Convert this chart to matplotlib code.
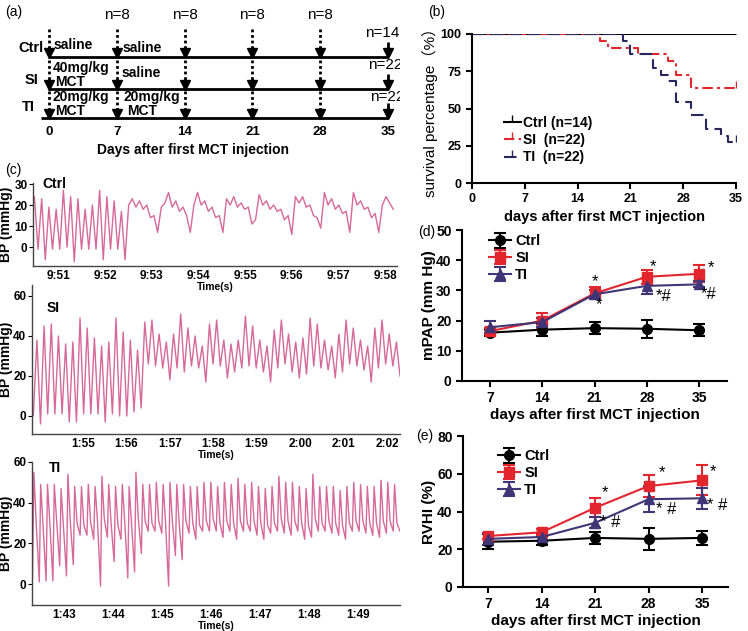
import numpy as np
import matplotlib
matplotlib.use("Agg")
import matplotlib.pyplot as plt
from matplotlib.ticker import FuncFormatter

plt.rcParams['font.family'] = ['Liberation Sans', 'Noto Sans CJK SC', 'DejaVu Sans']

# ---------------- data ----------------
# (a) study design
schedule_days = [0, 7, 14, 21, 28, 35]
sample_n = ['', 'n=8', 'n=8', 'n=8', 'n=8', '']
groups = ['Ctrl', 'SI', 'TI']
group_n = ['n=14', 'n=22', 'n=22']

# (b) survival (Kaplan-Meier steps)
ctrl_surv_days = [0, 35]
ctrl_surv = [100, 100]
si_surv_days = [0, 17, 18, 22, 26, 27, 29, 35]
si_surv = [100, 95.5, 90.9, 86.4, 81.8, 72.7, 63.6, 63.6]
ti_surv_days = [0, 20, 21, 24, 25, 26, 27, 29, 31, 33, 34, 35]
ti_surv = [100, 95.5, 86.4, 77.3, 72.7, 68.2, 54.5, 45.5, 36.4, 31.8, 27.3, 27.3]

# (c) pressure traces
ctrl_bp = [24, -1, 23, -6, 19, -1, 18, -1, 27, 0, 24, -7, 23, -1, 18, -1, 20, -1,
           27, -6, 24, -1, 22, -1, 17, -6,
           20, 23, 19, 22, 18, 20, 14, 15, 7, 19, 21, 26, 19, 22, 17, 19, 15, 7,
           20, 26, 20, 22, 17, 19, 14, 15, 7, 23, 20, 24, 19, 21, 18, 19, 11, 13,
           25, 20, 22, 18, 20, 17, 18, 13, 15, 6, 24, 21, 24, 19, 20, 15, 14, 9,
           26, 20, 23, 18, 20, 16, 17, 7, 26, 20, 22, 18, 19, 14, 16, 7, 20, 24, 21, 18]
ctrl_time = (590.49, 598.17)

si_start = 0
si_peaks = [38, 45, 46, 40, 36, 37, 49, 44, 39, 35, 37, 49, 42, 38, 33,
            47, 48, 41, 37, 41, 51, 44, 40, 35, 46, 48, 38, 36, 38, 50, 45, 38, 35,
            43, 48, 41, 37, 39, 49, 46, 38, 35, 41, 48, 44, 38, 35, 44, 48, 41, 37]
si_troughs = [-4, 1, 1, 1, -3, -3, 1, 1, 1, -3, 1, 0, 0, 2, 4,
              26, 25, 24, 18, 24, 22, 25, 24, 17, 26, 25, 19, 22, 24, 25, 24, 22, 17,
              24, 26, 22, 19, 21, 25, 24, 23, 19, 22, 26, 25, 23, 17, 24, 26, 25, 20]
si_time = (113.86, 122.3)

ti_start = 3
ti_peaks = [55, 49, 49, 49, 47, 54, 48, 48, 49, 48,
            53, 49, 48, 49, 48, 55, 49, 49, 50, 49,
            50, 49, 49, 48, 48, 50, 50, 48, 50, 49,
            52, 49, 50, 48, 47, 48, 53, 50, 50, 48,
            47, 54, 48, 48, 48, 46, 48, 50, 49, 48,
            48, 51, 50, 49]
ti_notches = [30, 29, 30, 31, 28, 31, 30, 29, 30, 31,
              32, 30, 29, 31, 30, 32, 31, 30, 31, 30,
              31, 30, 31, 30, 29, 31, 32, 30, 31, 30,
              31, 30, 31, 30, 29, 30, 32, 31, 31, 30,
              29, 32, 30, 31, 30, 29, 30, 31, 31, 30,
              30, 31, 31, 30]
ti_troughs = [1, 1.5, 1.5, 9, 4, 9.5, 24, 24, 22, -1,
              23, 11, 22, 3, 6, 15, 26, 26, 25, -1,
              14, 12, 25, 22, 26, 26, 26, 23, 26, 22,
              26, 26, 24, 22, 25, 26, 25, 24, 26, 22,
              23, 26, 26, 25, 24, 22, 26, 26, 25, 24,
              23, 25, 26, 26]
ti_time = (102.36, 109.86)

# (d) mPAP and (e) RVHI
days = [7, 14, 21, 28, 35]
mpap_ctrl = [16, 17, 17.5, 17.3, 16.8]
mpap_ctrl_err = [1, 2, 2, 3, 2]
mpap_si = [16.5, 20, 29, 34.5, 35.5]
mpap_si_err = [1, 2.5, 2, 2.3, 2.8]
mpap_ti = [17.8, 19.5, 28.7, 31.5, 32]
mpap_ti_err = [2, 1.5, 1.5, 2.7, 1]
mpap_marks = [('*', 21, 32.8), ('*', 21.6, 25.3), ('*', 28.9, 38),
              ('*#', 30.2, 28), ('*', 36.6, 37.7), ('*#', 36.3, 28.5)]

rvhi_ctrl = [24, 24.5, 26, 25.5, 26]
rvhi_ctrl_err = [4, 2, 3, 6, 3.5]
rvhi_si = [27, 29, 42, 53.5, 56.5]
rvhi_si_err = [1.5, 1.5, 5, 6, 8]
rvhi_ti = [25.5, 26.5, 34, 46.5, 47]
rvhi_ti_err = [3, 2, 3, 7, 5.5]
rvhi_marks = [('*', 22.3, 50), ('* #', 23.0, 34), ('*', 29.8, 60.5),
              ('* #', 30.3, 41), ('*', 36.4, 61), ('* #', 37.0, 43)]

RED = '#e3262d'
PURPLE = '#3f3577'
NAVY = '#26275e'
PINK = '#d6689a'

W, H = 748, 631
fig = plt.figure(figsize=(W / 100, H / 100), dpi=100)


def px_axes(l, t, r, b):
    a = fig.add_axes([l / W, 1 - b / H, (r - l) / W, (b - t) / H])
    a.patch.set_visible(False)
    return a


def style_axes(ax, fs=10, lw=1.5):
    ax.spines['top'].set_visible(False)
    ax.spines['right'].set_visible(False)
    for s in ['left', 'bottom']:
        ax.spines[s].set_linewidth(lw)
    ax.tick_params(direction='out', width=lw, length=4, labelsize=fs)
    for lab in ax.get_xticklabels() + ax.get_yticklabels():
        lab.set_fontweight('bold')


# ---------------- (a) ----------------
ax = px_axes(0, 0, 400, 160)
pxd = 9.686
ax.set_xlim(-49 / pxd, 351 / pxd)
ax.set_ylim(160, 0)
ax.axis('off')

row_y = [57, 89, 118]
row_top = [29, 60, 91]
row_start = [-0.1, -0.1, -0.8]
for y, x0 in zip(row_y, row_start):
    ax.plot([x0, 35.05], [y, y], color='k', lw=2, solid_capstyle='butt')


def arrow(x, y0, y1, dotted=True):
    ax.plot([x, x], [y0, y1 - 9], color='k', lw=2,
            ls=(0, (1, 1)) if dotted else '-', solid_capstyle='butt')
    ax.plot([x, x], [y1 - 10, y1 - 5], color='k', lw=2, solid_capstyle='butt')
    ax.plot(x, y1 - 4, marker='v', ms=7, color='k', mec='k')


for i, (y, yt) in enumerate(zip(row_y, row_top)):
    for d in schedule_days[:-1]:
        arrow(d, yt, y)
    arrow(schedule_days[-1], y - 15, y, dotted=False)

for d, n in zip(schedule_days, sample_n):
    if n:
        ax.text(d, 15, n, ha='center', va='center', fontsize=11)
    ax.text(d, 132, str(d), ha='center', va='center', fontsize=9.5, fontweight='bold')
for n, y, xl in zip(group_n, [33, 65, 97], [365, 368, 370]):
    ax.text((xl - 49) / pxd, y, n, ha='left', va='center', fontsize=11, clip_on=True)
for g, y, xr in zip(groups, [48, 80, 107], [43, 38, 35]):
    ax.text((xr - 49) / pxd, y, g, ha='right', va='center', fontsize=10.5, fontweight='bold')

bold = dict(ha='left', va='center', fontsize=10, fontweight='bold')
ax.text(0.52, 45, 'saline', **bold)
ax.text(7.64, 48, 'saline', **bold)
ax.text(0.41, 68, '40mg/kg', **bold)
ax.text(0.6, 82, 'MCT', **bold)
ax.text(7.54, 73, 'saline', **bold)
ax.text(0.41, 97, '20mg/kg', **bold)
ax.text(0.6, 111, 'MCT', **bold)
ax.text(7.64, 97, '20mg/kg', **bold)
ax.text(8.05, 111, 'MCT', **bold)
ax.text((193 - 49) / pxd, 150, 'Days after first MCT injection', ha='center',
        va='center', fontsize=10, fontweight='bold')
fig.text(5 / W, 1 - 12 / H, '(a)', fontsize=10, va='center')

# ---------------- (b) ----------------
ax = px_axes(472, 34, 736, 183)
ax.step(ctrl_surv_days, ctrl_surv, where='post', color='k', lw=1.5,
        marker=2, ms=5, markevery=[len(ctrl_surv) - 1], label='Ctrl (n=14)')
ax.step(si_surv_days, si_surv, where='post', color=RED, lw=1.5, ls=(0, (5, 2, 1.5, 2)),
        marker=2, ms=5, markevery=[len(si_surv) - 1], label='SI  (n=22)')
ax.step(ti_surv_days, ti_surv, where='post', color=NAVY, lw=1.5, ls=(0, (6, 3)),
        marker=2, ms=5, markevery=[len(ti_surv) - 1], label='TI  (n=22)')
ax.set_xlim(0, 35)
ax.set_ylim(0, 100)
ax.set_xticks(range(0, 36, 7))
ax.set_yticks([0, 25, 50, 75, 100])
style_axes(ax, fs=9)
ax.set_xlabel('days after first MCT injection', fontsize=10.5, fontweight='bold', labelpad=3)
ax.set_ylabel('survival percentage（%）', fontsize=11)
ax.yaxis.set_label_coords((438 - 472) / 264, 0.5)
leg = ax.legend(loc='upper left', bbox_to_anchor=(0.1, 0.49), frameon=False,
                fontsize=10, handlelength=1.2, handletextpad=0.2, labelspacing=0.25,
                borderaxespad=0)
for t in leg.get_texts():
    t.set_fontweight('bold')
fig.text(428 / W, 1 - 12 / H, '(b)', fontsize=10, va='center')


# ---------------- (c) ----------------
def mmss(t, pos):
    m = int(t // 60)
    s = int(round(t - 60 * m))
    return f"{m}:{s:02d}"


def trace_axes(box, xlim, ylim, yticks, xticks, name, name_xy):
    a = px_axes(*box)
    a.set_xlim(*xlim)
    a.set_ylim(*ylim)
    a.set_yticks(yticks)
    a.set_xticks(xticks)
    a.xaxis.set_major_formatter(FuncFormatter(mmss))
    for s in ['top', 'right']:
        a.spines[s].set_visible(False)
    for s in ['left', 'bottom']:
        a.spines[s].set_linewidth(1)
        a.spines[s].set_color('#444444')
    a.tick_params(axis='x', length=0, labelsize=8.5, pad=3)
    a.tick_params(axis='y', length=3, labelsize=8.5, pad=1)
    for lab in a.get_xticklabels() + a.get_yticklabels():
        lab.set_fontweight('bold')
    a.set_xlabel('Time(s)', fontsize=7.5, fontweight='bold', labelpad=0)
    a.set_ylabel('BP (mmHg)', fontsize=10, fontweight='bold')
    a.yaxis.set_label_coords((13 - box[0]) / (box[2] - box[0]), 0.5)
    a.text(name_xy[0], name_xy[1], name, transform=a.transAxes, fontsize=10,
           fontweight='bold', ha='left', va='center')
    return a


ax = trace_axes((33, 183, 397, 266), (590.46, 598.25), (-9, 30.5), [0, 10, 20, 30],
                range(591, 599), 'Ctrl', (0.025, 0.99))
ax.plot(np.linspace(ctrl_time[0], ctrl_time[1], len(ctrl_bp)), ctrl_bp, color=PINK, lw=1)

ax = trace_axes((32, 285, 400, 434), (113.83, 122.3), (-9, 65.5), [0, 20, 40, 60],
                range(115, 123), 'SI', (0.04, 0.846))
si_vals = [si_start]
for p, tr in zip(si_peaks, si_troughs):
    si_vals += [p, tr]
ax.plot(np.linspace(si_time[0], si_time[1], len(si_vals)), si_vals, color=PINK, lw=1)

ax = trace_axes((32, 462, 400, 605), (102.35, 109.86), (-10.3, 60), [0, 20, 40, 60],
                range(103, 110), 'TI', (0.045, 0.958))
period = (ti_time[1] - ti_time[0]) / len(ti_peaks)
ti_t, ti_v = [ti_time[0]], [ti_start]
for i, (p, nt, tr) in enumerate(zip(ti_peaks, ti_notches, ti_troughs)):
    t0 = ti_time[0] + i * period
    ti_t += [t0 + 0.2 * period, t0 + 0.55 * period, t0 + period]
    ti_v += [p, nt, tr]
ax.plot(ti_t, ti_v, color=PINK, lw=1)
fig.text(5 / W, 1 - 170 / H, '(c)', fontsize=10, va='center')


# ---------------- (d), (e) ----------------
def group_panel(box, xlim, ylim, yticks, ylabel, label_x, ctrl, ctrl_e, si, si_e,
                ti, ti_e, marks, leg_anchor):
    a = px_axes(*box)
    kw = dict(lw=1.5, elinewidth=1.5, capsize=4, capthick=1.5, ms=7)
    a.errorbar(days, ctrl, yerr=ctrl_e, color='k', marker='o', label='Ctrl', **kw)
    a.errorbar(days, si, yerr=si_e, color=RED, marker='s', label='SI', **kw)
    a.errorbar(days, ti, yerr=ti_e, color=PURPLE, marker='^', label='TI', **kw)
    for s, x, y in marks:
        a.text(x, y, s, fontsize=12, ha='center', va='center')
    a.set_xlim(*xlim)
    a.set_ylim(*ylim)
    a.set_xticks(days)
    a.set_yticks(yticks)
    style_axes(a, fs=10)
    a.set_xlabel('days after first MCT injection', fontsize=11, fontweight='bold', labelpad=2)
    a.set_ylabel(ylabel, fontsize=11, fontweight='bold')
    a.yaxis.set_label_coords((label_x - box[0]) / (box[2] - box[0]), 0.5)
    lg = a.legend(loc='upper left', bbox_to_anchor=leg_anchor, frameon=False, fontsize=10.5,
                  handlelength=1.5, handletextpad=0.3, labelspacing=0.2, borderaxespad=0)
    for t in lg.get_texts():
        t.set_fontweight('bold')
    return a


group_panel((462, 230, 727, 381), (3.25, 38.75), (0, 50), [0, 10, 20, 30, 40, 50],
            'mPAP (mm Hg)', 436, mpap_ctrl, mpap_ctrl_err, mpap_si, mpap_si_err,
            mpap_ti, mpap_ti_err, mpap_marks, (0.08, 1.01))
fig.text(418 / W, 1 - 232 / H, '(d)', fontsize=10, va='center')

group_panel((463, 436, 728, 587), (3.7, 38.4), (0, 80), [0, 20, 40, 60, 80],
            'RVHI (%)', 436, rvhi_ctrl, rvhi_ctrl_err, rvhi_si, rvhi_si_err,
            rvhi_ti, rvhi_ti_err, rvhi_marks, (0.11, 0.95))
fig.text(416 / W, 1 - 436 / H, '(e)', fontsize=10, va='center')

fig.savefig('out.png', dpi=100)
